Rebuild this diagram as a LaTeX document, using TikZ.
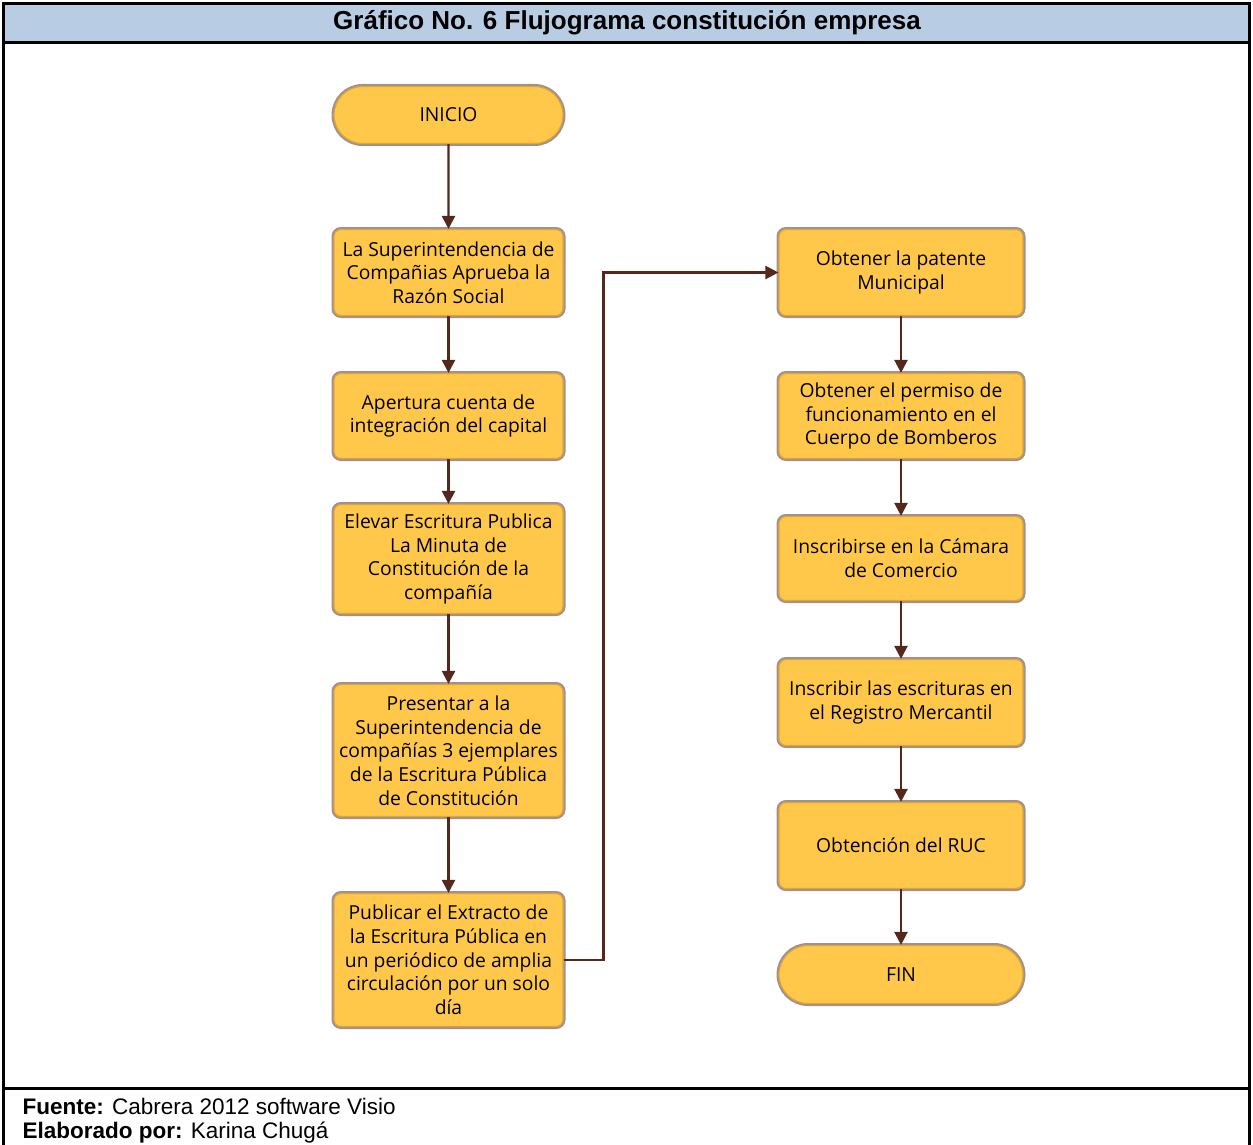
\documentclass[tikz,border=0pt]{standalone}
\usepackage{fontspec}
\setmainfont{Open Sans}
\newfontfamily\arialfont{Liberation Sans}
\usetikzlibrary{arrows.meta,shapes.misc}
\definecolor{amarillo}{HTML}{FFC84A}
\definecolor{borde}{HTML}{A09090}
\definecolor{oro}{HTML}{E2A532}
\definecolor{cafe}{HTML}{55281E}
\definecolor{celeste}{HTML}{B8CCE4}

\begin{document}
\begin{tikzpicture}[x=1pt,y=-1pt,
    paso/.style={rectangle, rounded corners=7pt, fill=amarillo, draw=oro, line width=1.2pt,
        preaction={draw=borde, line width=5pt}, inner sep=0pt, align=center,
        font=\fontsize{19.3}{23.7}\selectfont},
    terminal/.style={paso, rounded rectangle, rounded corners=0pt},
    flecha/.style={draw=cafe, line width=2.4pt, -{Triangle[length=13pt,width=13pt]}},
    marco/.style={line width=3pt}]
    \useasboundingbox (0,0) rectangle (1253,1145);

    % marco y encabezado
    \fill[celeste] (3,4) rectangle (1249,43);
    \draw[marco] (3,4) -- (1249,4);
    \draw[marco] (3,43) -- (1249,43);
    \draw[marco] (3,1088) -- (1249,1088);
    \draw[marco] (3,2.5) -- (3,1146);
    \draw[marco] (1249,2.5) -- (1249,1146);
    \node[font=\arialfont\bfseries\fontsize{26}{30}\selectfont] (titulo) at (627,23) {Gráfico No. 6 Flujograma constitución empresa};

    % columna izquierda
    \node[terminal, minimum width=229pt, minimum height=57pt] (inicio) at (448.5,115) {INICIO};
    \node[paso, minimum width=229pt, minimum height=86pt] (p1) at (448.5,272.5) {La Superintendencia de\\Compañias Aprueba la\\Razón Social};
    \node[paso, minimum width=229pt, minimum height=85pt] (p2) at (448.5,416) {Apertura cuenta de\\integración del capital};
    \node[paso, minimum width=229pt, minimum height=109pt] (p3) at (448.5,559) {Elevar Escritura Publica\\La Minuta de\\Constitución de la\\compañía};
    \node[paso, minimum width=229pt, minimum height=132pt] (p4) at (448.5,750.5) {Presentar a la\\Superintendencia de\\compañías 3 ejemplares\\de la Escritura Pública\\de Constitución};
    \node[paso, minimum width=229pt, minimum height=133pt] (p5) at (448.5,960) {Publicar el Extracto de\\la Escritura Pública en\\un periódico de amplia\\circulación por un solo\\día};

    % columna derecha
    \node[paso, minimum width=244pt, minimum height=86pt] (p6) at (901,272.5) {Obtener la patente\\Municipal};
    \node[paso, minimum width=244pt, minimum height=85pt] (p7) at (901,416) {Obtener el permiso de\\funcionamiento en el\\Cuerpo de Bomberos};
    \node[paso, minimum width=244pt, minimum height=84pt] (p8) at (901,558.5) {Inscribirse en la Cámara\\de Comercio};
    \node[paso, minimum width=244pt, minimum height=86pt] (p9) at (901,702.5) {Inscribir las escrituras en\\el Registro Mercantil};
    \node[paso, minimum width=244pt, minimum height=86pt] (p10) at (901,845.5) {Obtención del RUC};
    \node[terminal, minimum width=244pt, minimum height=58pt] (fin) at (901,974.5) {FIN};

    \draw[flecha] (inicio) -- (p1);
    \draw[flecha] (p1) -- (p2);
    \draw[flecha] (p2) -- (p3);
    \draw[flecha] (p3) -- (p4);
    \draw[flecha] (p4) -- (p5);
    \draw[flecha] (p5.east) -- ++(40,0) |- (p6.west);
    \draw[flecha] (p6) -- (p7);
    \draw[flecha] (p7) -- (p8);
    \draw[flecha] (p8) -- (p9);
    \draw[flecha] (p9) -- (p10);
    \draw[flecha] (p10) -- (fin);

    % pie
    \node[anchor=west, font=\arialfont\fontsize{22.5}{26}\selectfont] (fuente) at (19,1106) {\textbf{Fuente:} Cabrera 2012 software Visio};
    \node[anchor=west, font=\arialfont\fontsize{22.5}{26}\selectfont] (elaborado) at (19,1133) {\textbf{Elaborado por:} Karina Chugá};
\end{tikzpicture}
\end{document}
